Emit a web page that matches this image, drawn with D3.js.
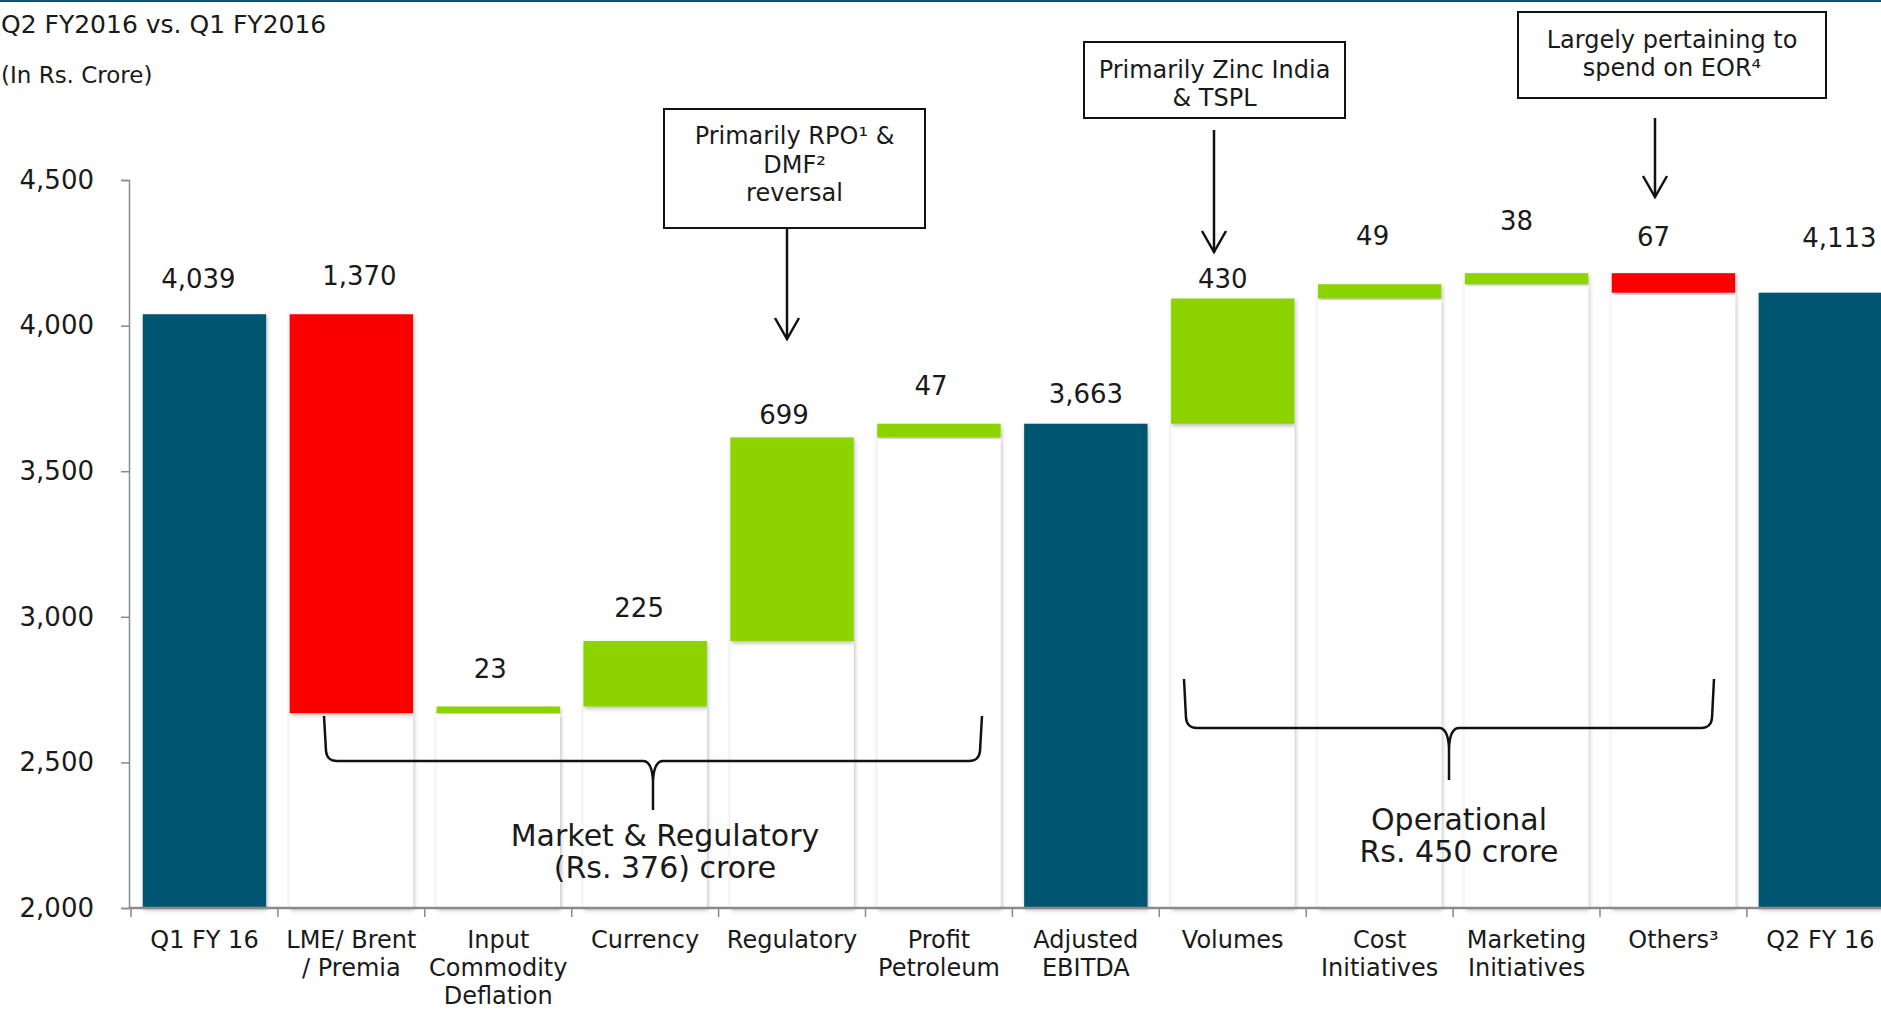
<!DOCTYPE html>
<html>
<head>
<meta charset="utf-8">
<script src="https://cdn.jsdelivr.net/npm/d3@7"></script>
<style>
  html, body { margin: 0; padding: 0; background: #ffffff; }
  svg { display: block; font-family: "DejaVu Sans", Verdana, sans-serif; }
</style>
</head>
<body>
<svg id="chart" width="1881" height="1011"></svg>
<script>
// EBITDA bridge, Q2 FY2016 vs. Q1 FY2016 (Rs. crore)
const categories = [
  "Q1 FY 16", "LME/ Brent\n/ Premia", "Input\nCommodity\nDeflation", "Currency",
  "Regulatory", "Profit\nPetroleum", "Adjusted\nEBITDA", "Volumes",
  "Cost\nInitiatives", "Marketing\nInitiatives", "Others³", "Q2 FY 16"
];
// "total" bars stand on the axis; "up"/"down" bars float on the running total
const stepKinds = ["total", "down", "up", "up", "up", "up", "total", "up", "up", "up", "down", "total"];
const stepValues = [4039, 1370, 23, 225, 699, 47, 3663, 430, 49, 38, 67, 4113];
const yTicks = [2000, 2500, 3000, 3500, 4000, 4500];

// label placement (pixels): lift above the bar top, horizontal nudge
const labelLift = [35, 38, 37, 33, 22, 38, 30, 20, 48, 52, 36, 55];
const labelNudge = [-6, 8, -8, -6, -8, -8, 0, -10, -7, -10, -20, 19];

const colors = { total: "#06546f", up: "#8cd300", down: "#fb0606", base: "#ffffff", ink: "#1a1a1a", axis: "#8a8a8a" };

const svg = d3.select("#chart");
const W = 1881, H = 1011;

// shadow used under every bar
const defs = svg.append("defs");
const f = defs.append("filter").attr("id", "shadow").attr("x", "-10%").attr("y", "-10%").attr("width", "120%").attr("height", "120%");
f.append("feDropShadow").attr("dx", 1).attr("dy", 2).attr("stdDeviation", 2)
  .attr("flood-color", "#000").attr("flood-opacity", 0.28);

// top rule
svg.append("rect").attr("x", 0).attr("y", 0).attr("width", W).attr("height", 2).attr("fill", "#0b5470");

// titles
svg.append("text").attr("x", 1).attr("y", 33)
  .attr("font-size", 25).attr("fill", colors.ink).text("Q2 FY2016 vs. Q1 FY2016");
svg.append("text").attr("x", 1).attr("y", 83)
  .attr("font-size", 23).attr("fill", colors.ink).text("(In Rs. Crore)");

// scales
const axisX = 129;
const x0 = 131;
const step = 146.9;
const x = d3.scaleBand().domain(categories).range([x0, x0 + step * categories.length])
  .paddingInner(0.16).paddingOuter(0.08);
const y = d3.scaleLinear().domain([2000, 4500]).range([908, 180]);

// running totals -> floating segments
let running = 0;
const bars = categories.map((c, i) => {
  const v = stepValues[i], k = stepKinds[i];
  let lo, hi;
  if (k === "total") { lo = y.domain()[0]; hi = v; running = v; }
  else if (k === "up") { lo = running; hi = running + v; running = hi; }
  else { lo = running - v; hi = running; running = lo; }
  return { cat: c, kind: k, value: v, lo, hi, i };
});

// invisible base columns (white with soft edge)
svg.append("g").selectAll("rect").data(bars.filter(d => d.kind !== "total")).join("rect")
  .attr("x", d => x(d.cat)).attr("width", x.bandwidth())
  .attr("y", d => y(d.lo)).attr("height", d => y(y.domain()[0]) - y(d.lo))
  .attr("fill", colors.base).attr("filter", "url(#shadow)");

// visible columns
svg.append("g").selectAll("rect").data(bars).join("rect")
  .attr("x", d => x(d.cat)).attr("width", x.bandwidth())
  .attr("y", d => y(d.hi)).attr("height", d => y(d.lo) - y(d.hi))
  .attr("fill", d => colors[d.kind]).attr("filter", "url(#shadow)");

// y axis
const yAxis = svg.append("g").attr("transform", `translate(${axisX},0)`)
  .call(d3.axisLeft(y).tickValues(yTicks).tickFormat(d3.format(",")).tickSize(8).tickSizeOuter(8).tickPadding(27));
yAxis.selectAll("path, line").attr("stroke", colors.axis).attr("stroke-width", 1.5);
yAxis.selectAll("text").attr("font-size", 26).attr("fill", colors.ink).attr("font-family", "DejaVu Sans");

// x axis: baseline and boundary ticks between categories
const xAxis = svg.append("g").attr("transform", `translate(0,${y(y.domain()[0])})`)
  .call(d3.axisBottom(x).tickSize(0).tickFormat(""));
xAxis.select(".domain").attr("d", `M${axisX},0H${W}`).attr("stroke", colors.axis).attr("stroke-width", 2.5);
const bounds = categories.map(c => x(c) - x.step() * x.paddingInner() / 2);
xAxis.selectAll(".bound").data(bounds).join("line").attr("class", "bound")
  .attr("x1", d => d).attr("x2", d => d).attr("y1", 0).attr("y2", 9)
  .attr("stroke", colors.axis).attr("stroke-width", 1.5);

// category labels
const catG = svg.append("g").attr("font-size", 24).attr("fill", colors.ink).attr("text-anchor", "middle");
categories.forEach(c => {
  const t = catG.append("text").attr("x", x(c) + x.bandwidth() / 2).attr("y", 948);
  c.split("\n").forEach((line, j) => {
    t.append("tspan").attr("x", x(c) + x.bandwidth() / 2).attr("y", 948 + j * 27.8).text(line);
  });
});

// value labels
svg.append("g").selectAll("text").data(bars).join("text")
  .attr("x", d => x(d.cat) + x.bandwidth() / 2 + labelNudge[d.i])
  .attr("y", d => y(d.hi) - labelLift[d.i] + 9)
  .attr("text-anchor", "middle").attr("font-size", 26).attr("fill", colors.ink)
  .text(d => d3.format(",")(d.value));

// call-out boxes with arrows
const notes = [
  { lines: ["Primarily RPO¹ &", "DMF²", "reversal"], box: [664, 109, 261, 119], base: 144, lh: 28.5, ax: 787, ay0: 228, ay1: 339 },
  { lines: ["Primarily Zinc India", "& TSPL"], box: [1084, 42, 261, 76], base: 78, lh: 28, ax: 1214, ay0: 130, ay1: 252 },
  { lines: ["Largely pertaining to", "spend on EOR⁴"], box: [1518, 12, 308, 86], base: 48, lh: 28, ax: 1655, ay0: 118, ay1: 197 }
];
const noteG = svg.append("g");
notes.forEach(n => {
  const [bx, by, bw, bh] = n.box;
  noteG.append("rect").attr("x", bx).attr("y", by).attr("width", bw).attr("height", bh)
    .attr("fill", "#fff").attr("stroke", "#111").attr("stroke-width", 2);
  const t = noteG.append("text").attr("text-anchor", "middle").attr("font-size", 24).attr("fill", colors.ink);
  n.lines.forEach((l, j) => t.append("tspan").attr("x", bx + bw / 2).attr("y", n.base + j * n.lh).text(l));
  noteG.append("line").attr("x1", n.ax).attr("x2", n.ax).attr("y1", n.ay0).attr("y2", n.ay1)
    .attr("stroke", "#111").attr("stroke-width", 2.5);
  noteG.append("path").attr("d", `M${n.ax - 12},${n.ay1 - 21} L${n.ax},${n.ay1} L${n.ax + 12},${n.ay1 - 21}`)
    .attr("fill", "none").attr("stroke", "#111").attr("stroke-width", 2.5);
});

// group braces
function bracePath(xL, xR, top, yH, tip) {
  const xc = (xL + xR) / 2, r = 10;
  return `M${xL},${top} L${xL + 2},${yH - r} Q${xL + 3},${yH} ${xL + r + 3},${yH} L${xc - 10},${yH} Q${xc - 1},${yH} ${xc},${yH + 20} L${xc},${tip}` +
         `M${xR},${top} L${xR - 2},${yH - r} Q${xR - 3},${yH} ${xR - r - 3},${yH} L${xc + 10},${yH} Q${xc + 1},${yH} ${xc},${yH + 20}`;
}
const braces = [
  { xL: 324, xR: 982, top: 716, yH: 761, tip: 810, lines: ["Market & Regulatory", "(Rs. 376) crore"], tx: 665, base: 846 },
  { xL: 1184, xR: 1714, top: 679, yH: 728, tip: 780, lines: ["Operational", "Rs. 450 crore"], tx: 1459, base: 830 }
];
braces.forEach(b => {
  svg.append("path").attr("d", bracePath(b.xL, b.xR, b.top, b.yH, b.tip))
    .attr("fill", "none").attr("stroke", "#111").attr("stroke-width", 2.5);
  const t = svg.append("text").attr("text-anchor", "middle").attr("font-size", 30).attr("fill", colors.ink);
  b.lines.forEach((l, j) => t.append("tspan").attr("x", b.tx).attr("y", b.base + j * 32).text(l));
});
</script>
</body>
</html>
